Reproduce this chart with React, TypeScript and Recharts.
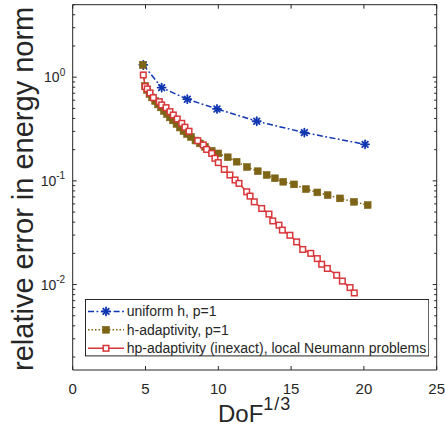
import React from 'react';
import { LineChart, Line, XAxis, YAxis, ReferenceArea, Legend } from 'recharts';

// ---------- data ----------
const UNIFORM_X = [4.85, 6.11, 7.87, 9.91, 12.64, 15.91, 20.08];
const UNIFORM_Y = [1.315, 0.793, 0.613, 0.494, 0.376, 0.292, 0.225];

const HADAPT_X = [
  4.81, 4.97, 5.1, 5.27, 5.45, 5.66, 5.86, 6.06, 6.27, 6.48, 6.68, 6.89, 7.13, 7.37, 7.61, 7.85, 8.12, 8.43,
  8.74, 9.09, 9.55, 10.0, 10.65, 11.26, 11.97, 12.71, 13.32, 13.89, 14.46, 15.2, 16.02, 16.8, 17.51, 18.36,
  19.32, 20.26,
];
const HADAPT_Y = [
  1.315, 0.824, 0.754, 0.69, 0.638, 0.59, 0.546, 0.511, 0.472, 0.442, 0.409, 0.383, 0.354, 0.327, 0.303, 0.283,
  0.265, 0.245, 0.23, 0.213, 0.195, 0.184, 0.169, 0.153, 0.136, 0.124, 0.114, 0.106, 0.098, 0.0925, 0.0833,
  0.0774, 0.0729, 0.0678, 0.0628, 0.0584,
];

const HP_X = [
  4.85, 4.97, 5.12, 5.31, 5.54, 5.95, 6.11, 6.41, 6.68, 6.91, 7.18, 7.49, 7.71, 7.99, 8.59, 8.97, 9.2, 9.55,
  9.77, 10.0, 10.41, 10.8, 11.15, 11.42, 11.95, 12.18, 12.47, 12.98, 13.48, 13.74, 14.17, 14.4, 14.92, 15.38,
  15.8, 16.35, 16.8, 17.1, 17.49, 18.13, 18.52, 19.05, 19.34,
];
const HP_Y = [
  1.05, 0.811, 0.77, 0.705, 0.635, 0.581, 0.54, 0.508, 0.465, 0.432, 0.395, 0.359, 0.329, 0.301, 0.244, 0.222,
  0.201, 0.184, 0.165, 0.15, 0.129, 0.114, 0.102, 0.0946, 0.0785, 0.0713, 0.0628, 0.0542, 0.0478, 0.0411,
  0.0374, 0.0335, 0.0299, 0.0258, 0.0218, 0.02, 0.0178, 0.0157, 0.0143, 0.0123, 0.0108, 0.00935, 0.0083,
];

const SERIES_NAMES = [
  'uniform h, p=1',
  'h-adaptivity, p=1',
  'hp-adaptivity (inexact), local Neumann problems',
];

const X_DOMAIN = [0, 25];
const X_TICKS = [0, 5, 10, 15, 20, 25];
const Y_DOMAIN = [0.0015, 5];
const Y_MAJOR_TICKS = [0.01, 0.1, 1];
const Y_MAJOR_EXPONENTS = ['-2', '-1', '0'];
const Y_MINOR_TICKS = [
  0.002, 0.003, 0.004, 0.005, 0.006, 0.007, 0.008, 0.009,
  0.02, 0.03, 0.04, 0.05, 0.06, 0.07, 0.08, 0.09,
  0.2, 0.3, 0.4, 0.5, 0.6, 0.7, 0.8, 0.9,
  2, 3, 4, 5,
];
const Y_TICKS = [...Y_MAJOR_TICKS, ...Y_MINOR_TICKS].sort((a, b) => a - b);

const zip = (xs: number[], ys: number[]) => xs.map((x, i) => ({ x, y: ys[i] }));
const UNIFORM = zip(UNIFORM_X, UNIFORM_Y);
const HADAPT = zip(HADAPT_X, HADAPT_Y);
const HP = zip(HP_X, HP_Y);

// ---------- styling ----------
const W = 445;
const H = 430;
const X_AXIS_H = 60;
const Y_AXIS_W = 72.7;
const MARGIN = { top: 4.7, right: 8.3, bottom: 0, left: 0 };
const PLOT_LEFT = MARGIN.left + Y_AXIS_W;
const PLOT_RIGHT = W - MARGIN.right;
const PLOT_TOP = MARGIN.top;
const PLOT_BOTTOM = H - MARGIN.bottom - X_AXIS_H;
const FONT = '"Liberation Sans", Arial, Helvetica, sans-serif';
const AXIS_COLOR = '#262626';
const BLUE = '#0f35b0';
const OLIVE = '#7e6416';
const RED = '#d8363a';

const Star = ({ cx, cy, color }: any) => {
  if (cx == null || cy == null) return null;
  const r = 4;
  const d = r * 0.7071;
  return (
    <g stroke={color} strokeWidth={1.8} strokeLinecap="round">
      <line x1={cx - r} y1={cy} x2={cx + r} y2={cy} />
      <line x1={cx} y1={cy - r} x2={cx} y2={cy + r} />
      <line x1={cx - d} y1={cy - d} x2={cx + d} y2={cy + d} />
      <line x1={cx - d} y1={cy + d} x2={cx + d} y2={cy - d} />
    </g>
  );
};
const FilledSquare = ({ cx, cy, color }: any) => {
  if (cx == null || cy == null) return null;
  const s = 6.8;
  return <rect x={cx - s / 2} y={cy - s / 2} width={s} height={s} fill={color} stroke={color} strokeWidth={0.6} />;
};
const HollowSquare = ({ cx, cy, color }: any) => {
  if (cx == null || cy == null) return null;
  const s = 5.6;
  return <rect x={cx - s / 2} y={cy - s / 2} width={s} height={s} fill="#fff" stroke={color} strokeWidth={1.5} />;
};

const SERIES = [
  { name: SERIES_NAMES[0], data: UNIFORM, color: BLUE, dash: '6 2.5 1.8 2.5', Marker: Star },
  { name: SERIES_NAMES[1], data: HADAPT, color: OLIVE, dash: '1.5 2', Marker: FilledSquare },
  { name: SERIES_NAMES[2], data: HP, color: RED, dash: undefined, Marker: HollowSquare },
];

const XTick = (props: any) => {
  const { payload } = props;
  const x = payload.coordinate;
  return (
    <g>
      <line x1={x} y1={PLOT_BOTTOM} x2={x} y2={PLOT_BOTTOM - 4} stroke={AXIS_COLOR} strokeWidth={1} />
      <line x1={x} y1={PLOT_TOP} x2={x} y2={PLOT_TOP + 4} stroke={AXIS_COLOR} strokeWidth={1} />
      <text x={x} y={393.5} textAnchor="middle" fontSize={15} fontFamily={FONT} fill={AXIS_COLOR}>
        {payload.value}
      </text>
    </g>
  );
};

const YTick = (props: any) => {
  const { payload } = props;
  const y = payload.coordinate;
  const idx = Y_MAJOR_TICKS.findIndex((v) => Math.abs(v - payload.value) / v < 1e-6);
  const major = idx >= 0;
  const len = major ? 4 : 2.5;
  return (
    <g>
      <line x1={PLOT_LEFT} y1={y} x2={PLOT_LEFT + len} y2={y} stroke={AXIS_COLOR} strokeWidth={1} />
      <line x1={PLOT_RIGHT} y1={y} x2={PLOT_RIGHT - len} y2={y} stroke={AXIS_COLOR} strokeWidth={1} />
      {major && (
        <text x={PLOT_LEFT - 7.5} y={y + 5} textAnchor="end" fontFamily={FONT} fill={AXIS_COLOR}>
          <tspan fontSize={14}>10</tspan>
          <tspan fontSize={10} dy={-6.5}>{Y_MAJOR_EXPONENTS[idx]}</tspan>
        </text>
      )}
    </g>
  );
};

const XLabel = () => {
  const cx = (PLOT_LEFT + PLOT_RIGHT) / 2;
  return (
    <text x={cx} y={421.7} textAnchor="middle" fontFamily={FONT} fill={AXIS_COLOR}>
      <tspan fontSize={24}>DoF</tspan>
      <tspan fontSize={18} dy={-12} letterSpacing={1}>1/3</tspan>
    </text>
  );
};

const YLabel = () => {
  const cy = (PLOT_TOP + PLOT_BOTTOM) / 2 + 1.5;
  const x = PLOT_LEFT - 39.2;
  return (
    <text
      x={x}
      y={cy}
      textAnchor="middle"
      fontSize={29}
      fontFamily={FONT}
      fill={AXIS_COLOR}
      transform={`rotate(-90, ${x}, ${cy})`}
    >
      relative error in energy norm
    </text>
  );
};

const LEG = { left: 85, top: 299.3, width: 344.3, height: 57.4 };
const LEG_ROWS = [12.4, 30.8, 49.3];

const LegendBox = () => (
  <svg width={LEG.width} height={LEG.height} style={{ display: 'block' }}>
    <rect x={0.5} y={0.5} width={LEG.width - 1} height={LEG.height - 1} fill="#fff" stroke={AXIS_COLOR} strokeWidth={1} />
    {SERIES.map((s, i) => {
      const cy = LEG_ROWS[i];
      const M = s.Marker;
      return (
        <g key={i}>
          <line x1={3} x2={39} y1={cy} y2={cy} stroke={s.color} strokeWidth={1.5} strokeDasharray={s.dash} />
          <M cx={21} cy={cy} color={s.color} />
          <text x={41.7} y={cy + 5} fontSize={14} fontFamily={FONT} fill={AXIS_COLOR}>
            {s.name}
          </text>
        </g>
      );
    })}
  </svg>
);

export default function App() {
  return (
    <div style={{ position: 'absolute', left: 0, top: 0, width: W, height: H, background: '#fff' }}>
      <LineChart width={W} height={H} margin={MARGIN}>
        <XAxis
          type="number"
          dataKey="x"
          domain={X_DOMAIN}
          ticks={X_TICKS}
          interval={0}
          height={X_AXIS_H}
          axisLine={false}
          tickLine={false}
          tick={(p: any) => <XTick {...p} />}
          allowDataOverflow
          label={{ content: () => <XLabel /> }}
        />
        <YAxis
          type="number"
          scale="log"
          domain={Y_DOMAIN}
          ticks={Y_TICKS}
          interval={0}
          width={Y_AXIS_W}
          axisLine={false}
          tickLine={false}
          tick={(p: any) => <YTick {...p} />}
          allowDataOverflow
          label={{ content: () => <YLabel /> }}
        />
        <ReferenceArea
          x1={X_DOMAIN[0]}
          x2={X_DOMAIN[1]}
          y1={Y_DOMAIN[0]}
          y2={Y_DOMAIN[1]}
          fill="none"
          fillOpacity={0}
          stroke={AXIS_COLOR}
          strokeWidth={1}
          ifOverflow="visible"
        />
        {SERIES.map((s, i) => {
          const M = s.Marker;
          return (
            <Line
              key={i}
              name={s.name}
              data={s.data}
              dataKey="y"
              type="linear"
              stroke={s.color}
              strokeWidth={1.5}
              strokeDasharray={s.dash}
              isAnimationActive={false}
              dot={(p: any) => <M key={`${i}-${p.index}`} cx={p.cx} cy={p.cy} color={s.color} />}
              activeDot={false}
            />
          );
        })}
        <Legend
          layout="vertical"
          align="center"
          verticalAlign="middle"
          content={() => <LegendBox />}
          wrapperStyle={{ position: 'absolute', left: LEG.left, top: LEG.top, width: LEG.width, height: LEG.height }}
        />
      </LineChart>
    </div>
  );
}
